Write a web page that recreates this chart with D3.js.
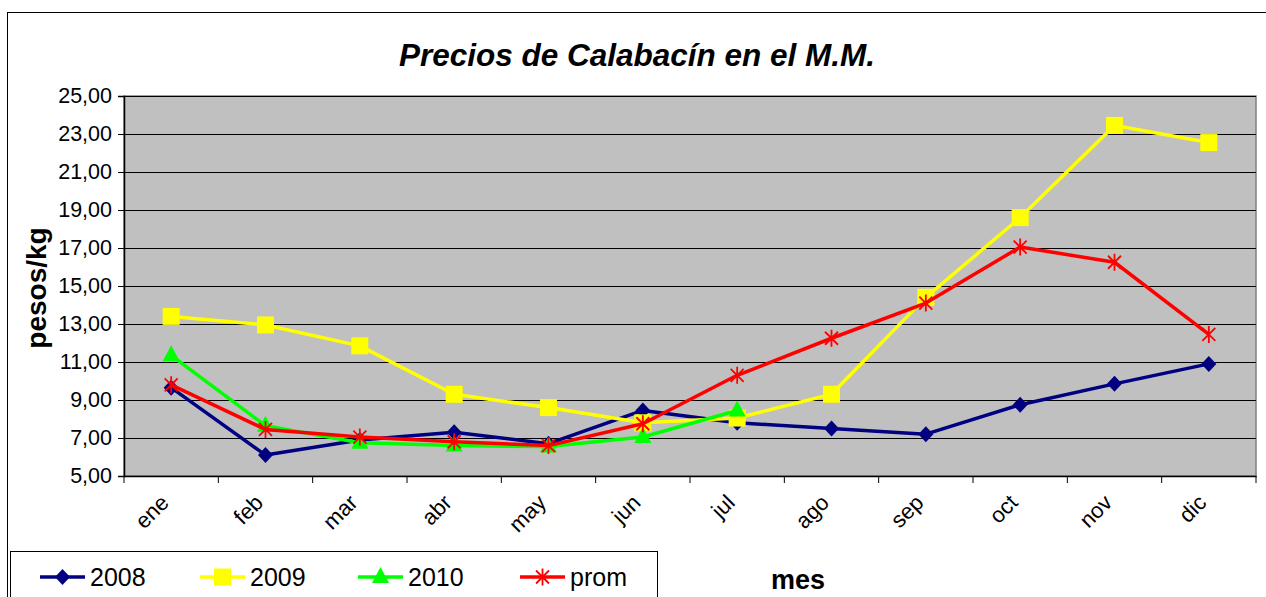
<!DOCTYPE html>
<html><head><meta charset="utf-8">
<script src="https://cdn.jsdelivr.net/npm/d3@7"></script>
<style>body{margin:0;background:#fff;} text{font-family:"Liberation Sans",Arial,sans-serif;}</style>
</head><body>
<svg id="c" width="1266" height="597"></svg>
<script>
const months = ["ene","feb","mar","abr","may","jun","jul","ago","sep","oct","nov","dic"];
const yTicks = [5,7,9,11,13,15,17,19,21,23,25];
const s2008 = [9.65,6.1,6.9,7.3,6.7,8.45,7.8,7.5,7.2,8.75,9.85,10.9];
const s2009 = [13.4,12.95,11.85,9.3,8.6,7.8,8.05,9.3,14.4,18.6,23.45,22.55];
const s2010 = [11.35,7.65,6.75,6.6,6.55,7.05,8.45,null,null,null,null,null];
const sProm = [9.8,7.45,7.05,6.8,6.6,7.75,10.3,12.25,14.1,17.05,16.25,12.45];

const series = [
  {name:"2008", values:s2008, color:"#000080", marker:"diamond"},
  {name:"2009", values:s2009, color:"#FFFF00", marker:"square"},
  {name:"2010", values:s2010, color:"#00FF00", marker:"triangle"},
  {name:"prom", values:sProm, color:"#FF0000", marker:"star"}
];

const svg = d3.select("#c");
const L=124, R=1256, T=96, B=476;
const x = d3.scaleBand().domain(months).range([L,R]);
const y = d3.scaleLinear().domain([5,25]).range([B,T]);

svg.append("rect").attr("x",7.5).attr("y",12.5).attr("width",1270).attr("height",600)
  .attr("fill","#fff").attr("stroke","#000").attr("stroke-width",1);

svg.append("rect").attr("x",L).attr("y",T).attr("width",R-L).attr("height",B-T)
  .attr("fill","#C0C0C0").attr("stroke","#808080").attr("stroke-width",1.5);

svg.append("g").selectAll("line").data(yTicks.slice(1)).join("line")
  .attr("x1",L).attr("x2",R).attr("y1",d=>Math.round(y(d))+0.5).attr("y2",d=>Math.round(y(d))+0.5)
  .attr("stroke","#000").attr("stroke-width",1);

const ya = svg.append("g").attr("transform",`translate(${L},0)`)
  .call(d3.axisLeft(y).tickValues(yTicks).tickSize(6).tickPadding(6).tickFormat(d=>d3.format(".2f")(d).replace(".",",")));
ya.select(".domain").attr("stroke","#000").attr("stroke-width",1.5);
ya.selectAll("text").attr("font-size",21.5).attr("fill","#000");

const xa = svg.append("g").attr("transform",`translate(0,${B})`)
  .call(d3.axisBottom(x).tickSize(0).tickFormat(""));
xa.select(".domain").attr("stroke","#000").attr("stroke-width",1.5);
const bounds = months.map(m=>x(m)).concat([R]);
svg.append("g").selectAll("line").data(bounds).join("line")
  .attr("x1",d=>d).attr("x2",d=>d).attr("y1",B).attr("y2",B+7).attr("stroke","#000");
svg.append("g").selectAll("text").data(months).join("text")
  .attr("transform",d=>`translate(${x(d)+x.bandwidth()/2-1},${B+28}) rotate(-45)`)
  .attr("text-anchor","end").attr("font-size",22).attr("fill","#000").text(d=>d);

function drawMarker(g, type, color, cx, cy){
  if(type==="diamond"){
    g.append("path").attr("d",`M${cx},${cy-8}L${cx+7.5},${cy}L${cx},${cy+8}L${cx-7.5},${cy}Z`).attr("fill",color);
  } else if(type==="square"){
    g.append("rect").attr("x",cx-8.5).attr("y",cy-8.5).attr("width",17).attr("height",17).attr("fill",color);
  } else if(type==="triangle"){
    g.append("path").attr("d",`M${cx},${cy-10}L${cx+8.5},${cy+6}L${cx-8.5},${cy+6}Z`).attr("fill",color);
  } else {
    const r=8.5;
    g.append("path").attr("d",`M${cx},${cy-r}L${cx},${cy+r}M${cx-6.5},${cy-6.5}L${cx+6.5},${cy+6.5}M${cx-6.5},${cy+6.5}L${cx+6.5},${cy-6.5}`)
      .attr("stroke",color).attr("stroke-width",1.8).attr("fill","none");
  }
}

const line = d3.line().defined(d=>d.v!=null).x(d=>x(d.m)+x.bandwidth()/2).y(d=>y(d.v));
series.forEach(s=>{
  const data = months.map((m,i)=>({m, v:s.values[i]}));
  const g = svg.append("g");
  g.append("path").datum(data).attr("d",line).attr("fill","none").attr("stroke",s.color).attr("stroke-width",3.5).attr("stroke-linejoin","round");
  data.filter(d=>d.v!=null).forEach(d=>drawMarker(g,s.marker,s.color,x(d.m)+x.bandwidth()/2,y(d.v)));
});

svg.append("text").attr("x",637).attr("y",66).attr("text-anchor","middle")
  .attr("font-size",31.5).attr("font-weight","bold").attr("font-style","italic").text("Precios de Calabacín en el M.M.");
svg.append("text").attr("transform","translate(46,288) rotate(-90)").attr("text-anchor","middle")
  .attr("font-size",28).attr("font-weight","bold").text("pesos/kg");
svg.append("text").attr("x",798).attr("y",589).attr("text-anchor","middle")
  .attr("font-size",27).attr("font-weight","bold").text("mes");

svg.append("rect").attr("x",10.5).attr("y",551.5).attr("width",647).attr("height",60)
  .attr("fill","#fff").attr("stroke","#000");
const legX = [40,200,358,520];
series.forEach((s,i)=>{
  const g = svg.append("g");
  const cy = 577;
  g.append("line").attr("x1",legX[i]).attr("x2",legX[i]+45).attr("y1",cy).attr("y2",cy).attr("stroke",s.color).attr("stroke-width",3.5);
  drawMarker(g,s.marker,s.color,legX[i]+22.5,cy);
  g.append("text").attr("x",legX[i]+50).attr("y",cy+9).attr("font-size",25).text(s.name);
});
</script>
</body></html>
